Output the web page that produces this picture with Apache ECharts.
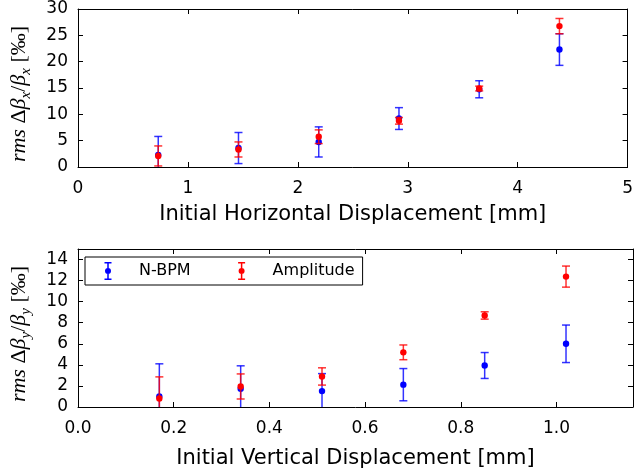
<!DOCTYPE html>
<html><head><meta charset="utf-8">
<script src="https://cdn.jsdelivr.net/npm/echarts@6/dist/echarts.min.js"></script>
<style>html,body{margin:0;padding:0;background:#fff}#c{width:636px;height:474px}</style>
</head><body><div id="c"></div>
<script>
// ---- data ----
const xHoriz = [0.73, 1.46, 2.19, 2.92, 3.65, 4.38];
const nbpmHoriz = [2.3, 3.6, 4.76, 9.2, 14.76, 22.3];
const nbpmHorizErr = [3.5, 2.95, 2.86, 2.07, 1.62, 3.0];
const ampHoriz = [2.1, 3.33, 5.75, 8.77, 14.9, 26.75];
const ampHorizErr = [1.9, 1.43, 1.3, 0.63, 0.45, 1.45];

const xVert = [0.17, 0.34, 0.51, 0.68, 0.85, 1.02];
const nbpmVert = [1.0, 1.73, 1.51, 2.12, 3.94, 6.0];
const nbpmVertErr = [3.1, 2.18, 1.66, 1.53, 1.23, 1.78];
const ampVert = [0.8, 1.95, 2.9, 5.19, 8.69, 12.38];
const ampVertErr = [2.06, 1.19, 0.82, 0.7, 0.35, 1.0];

const seriesNames = ['N-BPM', 'Amplitude'];
const BLUE = '#0000ff', RED = '#ff0000';

function zip3(a, b, c) { return a.map((v, i) => [v, b[i], c[i]]); }

function renderErr(params, api) {
  const x = api.value(0), y = api.value(1), e = api.value(2);
  const c = api.coord([x, y]);
  const t = api.coord([x, y + e]);
  const b = api.coord([x, y - e]);
  const color = api.visual('color');
  const hw = 4;
  const ls = { stroke: color, lineWidth: 1.5, opacity: 0.8 };
  return {
    type: 'group',
    children: [
      { type: 'line', shape: { x1: c[0], y1: t[1], x2: c[0], y2: b[1] }, style: ls },
      { type: 'line', shape: { x1: c[0] - hw, y1: t[1], x2: c[0] + hw, y2: t[1] }, style: ls },
      { type: 'line', shape: { x1: c[0] - hw, y1: b[1], x2: c[0] + hw, y2: b[1] }, style: ls },
      { type: 'circle', shape: { cx: c[0], cy: c[1], r: 3.2 }, style: { fill: color } }
    ]
  };
}

const legendIcon = 'path://M0,9L0.01,9Z M42,9L41.99,9Z M12.5,0H19.5V1.5H12.5Z M12.5,16.5H19.5V18H12.5Z M15.25,0H16.75V18H15.25Z M19,9A3,3 0 1,1 13,9A3,3 0 1,1 19,9Z';

const tickFont = { color: '#000', fontFamily: 'DejaVu Sans', fontSize: 17 };
const richY = {
  it: { fontFamily: 'Liberation Serif', fontStyle: 'italic', fontSize: 22, lineHeight: 24, color: '#000' },
  n: { fontFamily: 'Liberation Serif', fontSize: 22, lineHeight: 24, color: '#000' },
  sub: { fontFamily: 'Liberation Serif', fontStyle: 'italic', fontSize: 15, lineHeight: 30, verticalAlign: 'bottom', color: '#000' }
};

function xAxes(grid, max, interval, name, fmt, gap) {
  const base = {
    gridIndex: grid, type: 'value', min: 0, max: max, interval: interval,
    axisLine: { show: true, onZero: false, lineStyle: { color: '#000', width: 1 } },
    axisTick: { show: true, inside: true, length: 5, lineStyle: { color: '#000' } },
    splitLine: { show: false }
  };
  return [
    Object.assign({}, base, {
      position: 'bottom', name: name, nameLocation: 'middle', nameGap: gap,
      nameTextStyle: { color: '#000', fontFamily: 'DejaVu Sans', fontSize: 21 },
      axisLabel: Object.assign({ margin: 13, showMaxLabel: max % interval === 0, formatter: fmt }, tickFont)
    }),
    Object.assign({}, base, { position: 'top', axisLabel: { show: false } })
  ];
}
function yAxes(grid, max, interval, name) {
  const base = {
    gridIndex: grid, type: 'value', min: 0, max: max, interval: interval,
    axisLine: { show: true, onZero: false, lineStyle: { color: '#000', width: 1 } },
    axisTick: { show: true, inside: true, length: 5, lineStyle: { color: '#000' } },
    splitLine: { show: false }
  };
  return [
    Object.assign({}, base, {
      position: 'left', name: name, nameLocation: 'middle', nameGap: 44, nameRotate: 90,
      nameTextStyle: { rich: richY, padding: [0, 12, 0, 0] },
      axisLabel: Object.assign({ margin: 10, showMaxLabel: max % interval === 0 }, tickFont)
    }),
    Object.assign({}, base, { position: 'right', axisLabel: { show: false } })
  ];
}

const xa = xAxes(0, 5, 1, 'Initial Horizontal Displacement [mm]', v => String(v), 37)
  .concat(xAxes(1, 1.16, 0.2, 'Initial Vertical Displacement [mm]', v => v.toFixed(1), 41));
const ya = yAxes(0, 30, 5, '{it|rms}{n| Δ}{it|β}{sub|x}{n|/}{it|β}{sub|x}{n| [‰]}')
  .concat(yAxes(1, 15, 2, '{it|rms}{n| Δ}{it|β}{sub|y}{n|/}{it|β}{sub|y}{n| [‰]}'));

function errSeries(name, color, xi, yi, data) {
  return {
    type: 'custom', name: name, xAxisIndex: xi, yAxisIndex: yi, clip: true,
    itemStyle: { color: color }, renderItem: renderErr,
    encode: { x: 0, y: 1 }, data: data
  };
}

const option = {
  animation: false,
  backgroundColor: '#fff',
  grid: [
    { left: 77, top: 9, width: 556, height: 158 },
    { left: 77, top: 249, width: 556, height: 158 }
  ],
  xAxis: xa,
  yAxis: ya,
  legend: {
    left: 85, top: 257,
    orient: 'horizontal',
    borderColor: '#000', borderWidth: 1, borderRadius: 0,
    padding: [5, 8, 5, 7],
    itemWidth: 42, itemHeight: 18, itemGap: 35,
    textStyle: { color: '#000', fontFamily: 'DejaVu Sans', fontSize: 16 },
    data: [
      { name: seriesNames[0], icon: legendIcon },
      { name: seriesNames[1], icon: legendIcon }
    ]
  },
  series: [
    errSeries(seriesNames[0], BLUE, 0, 0, zip3(xHoriz, nbpmHoriz, nbpmHorizErr)),
    errSeries(seriesNames[1], RED, 0, 0, zip3(xHoriz, ampHoriz, ampHorizErr)),
    errSeries(seriesNames[0], BLUE, 2, 2, zip3(xVert, nbpmVert, nbpmVertErr)),
    errSeries(seriesNames[1], RED, 2, 2, zip3(xVert, ampVert, ampVertErr))
  ]
};

const chart = echarts.init(document.getElementById('c'), null, { renderer: 'canvas' });
chart.setOption(option);
</script></body></html>
